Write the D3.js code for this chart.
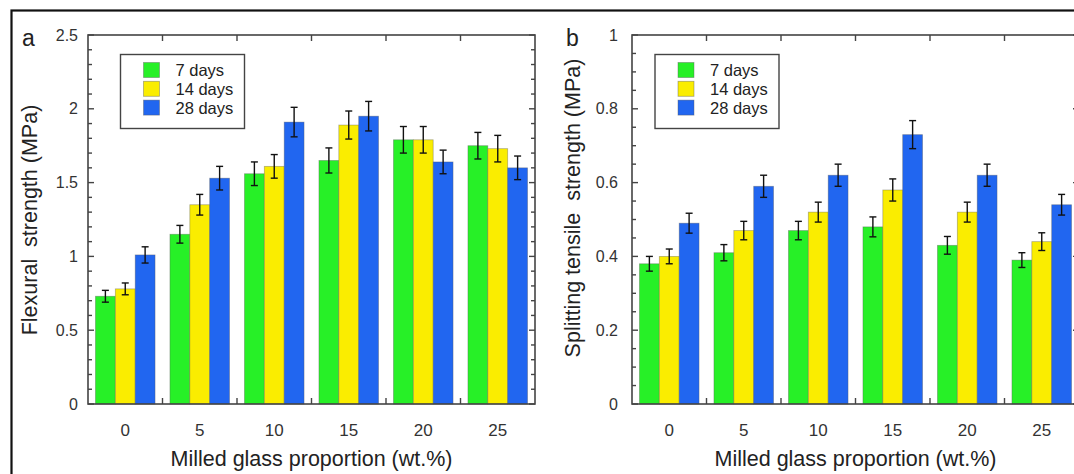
<!DOCTYPE html>
<html><head><meta charset="utf-8">
<script src="https://cdn.jsdelivr.net/npm/d3@7/dist/d3.min.js"></script>
<style>
html,body{margin:0;padding:0;background:#fff;overflow:hidden}
text{font-family:"Liberation Sans",Arial,Helvetica,sans-serif}
</style></head>
<body>
<svg id="chart" width="1074" height="474"></svg>
<script>
const categories = ["0","5","10","15","20","25"];
const seriesNames = ["7 days","14 days","28 days"];
const seriesColors = ["#27f027","#faed00","#2166f0"];

// Panel a: flexural strength (MPa)
const flex7 = [0.73,1.15,1.56,1.65,1.79,1.75];
const flex14 = [0.78,1.35,1.61,1.89,1.79,1.73];
const flex28 = [1.01,1.53,1.91,1.95,1.64,1.60];
const flex7Err = [0.04,0.06,0.08,0.085,0.09,0.09];
const flex14Err = [0.04,0.07,0.08,0.095,0.09,0.09];
const flex28Err = [0.055,0.08,0.10,0.10,0.08,0.08];
const flexTicks = [0,0.5,1,1.5,2,2.5];
const flexTickLabels = ["0","0.5","1","1.5","2","2.5"];

// Panel b: splitting tensile strength (MPa)
const split7 = [0.38,0.41,0.47,0.48,0.43,0.39];
const split14 = [0.40,0.47,0.52,0.58,0.52,0.44];
const split28 = [0.49,0.59,0.62,0.73,0.62,0.54];
const split7Err = [0.02,0.022,0.025,0.027,0.024,0.02];
const split14Err = [0.02,0.025,0.027,0.03,0.027,0.024];
const split28Err = [0.027,0.03,0.03,0.038,0.03,0.028];
const splitTicks = [0,0.2,0.4,0.6,0.8,1];
const splitTickLabels = ["0","0.2","0.4","0.6","0.8","1"];

const svg = d3.select("#chart");

// outer frame
svg.append("rect").attr("x",11.5).attr("y",10.5).attr("width",1100).attr("height",500)
  .attr("fill","none").attr("stroke","#111").attr("stroke-width",2.2);

function panel(opt){
  const {x0,x1,y0,y1,ymax,minorStep,ticks,tickLabels,vals,errs,letter,letterX,ytitle,ytitleX,ytitleY,labelGap,legendX} = opt;
  const g = svg.append("g");
  const x = d3.scaleBand().domain(categories).range([x0,x1]).paddingInner(0.2).paddingOuter(0.1);
  const xs = d3.scaleBand().domain(seriesNames).range([0,x.bandwidth()]);
  const y = d3.scaleLinear().domain([0,ymax]).range([y1,y0]);
  const axisColor = "#444";

  // bars
  seriesNames.forEach((s,si)=>{
    categories.forEach((c,ci)=>{
      const v = vals[si][ci];
      g.append("rect").attr("x",x(c)+xs(s)).attr("y",y(v))
        .attr("width",xs.bandwidth()).attr("height",y(0)-y(v))
        .attr("fill",seriesColors[si]).attr("stroke","rgba(90,90,90,0.45)").attr("stroke-width",0.8);
    });
  });
  // error bars
  seriesNames.forEach((s,si)=>{
    categories.forEach((c,ci)=>{
      const v = vals[si][ci], e = errs[si][ci];
      const cx = x(c)+xs(s)+xs.bandwidth()/2;
      const eg = g.append("g").attr("stroke","#111").attr("stroke-width",1.4);
      eg.append("line").attr("x1",cx).attr("x2",cx).attr("y1",y(v+e)).attr("y2",y(v-e));
      eg.append("line").attr("x1",cx-3.5).attr("x2",cx+3.5).attr("y1",y(v+e)).attr("y2",y(v+e));
      eg.append("line").attr("x1",cx-3.5).attr("x2",cx+3.5).attr("y1",y(v-e)).attr("y2",y(v-e));
    });
  });

  // frame
  g.append("rect").attr("x",x0).attr("y",y0).attr("width",x1-x0).attr("height",y1-y0)
    .attr("fill","none").attr("stroke",axisColor).attr("stroke-width",1.6);

  // y ticks (minor + major) on left and right, pointing inward
  const minor = d3.range(0, ymax+minorStep/2, minorStep);
  minor.forEach(t=>{
    const isMajor = ticks.some(m=>Math.abs(m-t)<1e-6);
    const len = isMajor?6:4;
    g.append("line").attr("x1",x0).attr("x2",x0+len).attr("y1",y(t)).attr("y2",y(t)).attr("stroke",axisColor).attr("stroke-width",1.4);
    g.append("line").attr("x1",x1).attr("x2",x1-len).attr("y1",y(t)).attr("y2",y(t)).attr("stroke",axisColor).attr("stroke-width",1.4);
  });
  // y tick labels via d3 axis
  const yAxis = d3.axisLeft(y).tickValues(ticks).tickFormat((d,i)=>tickLabels[i]).tickSize(0).tickPadding(labelGap);
  const ya = g.append("g").attr("transform",`translate(${x0},0)`).call(yAxis);
  ya.select(".domain").remove();
  ya.selectAll("text").attr("font-size",16).attr("fill","#333").attr("font-family","Liberation Sans, Arial, sans-serif");

  // x ticks between groups, top and bottom, inward
  for(let i=1;i<categories.length;i++){
    const tx = x0 + x.step()*i;
    g.append("line").attr("x1",tx).attr("x2",tx).attr("y1",y1).attr("y2",y1-6).attr("stroke",axisColor).attr("stroke-width",1.4);
    g.append("line").attr("x1",tx).attr("x2",tx).attr("y1",y0).attr("y2",y0+6).attr("stroke",axisColor).attr("stroke-width",1.4);
  }
  // x tick labels via d3 axis
  const xAxis = d3.axisBottom(x).tickSize(0).tickPadding(20);
  const xa = g.append("g").attr("transform",`translate(0,${y1})`).call(xAxis);
  xa.select(".domain").remove();
  xa.selectAll("text").attr("font-size",17).attr("fill","#333").attr("font-family","Liberation Sans, Arial, sans-serif");

  // titles
  g.append("text").attr("x",(x0+x1)/2).attr("y",466).attr("text-anchor","middle")
    .attr("font-size",21.5).attr("fill","#222").text("Milled glass proportion (wt.%)");
  g.append("text").attr("transform",`translate(${ytitleX},${ytitleY}) rotate(-90)`).attr("text-anchor","middle")
    .attr("font-size",21.5).attr("fill","#222").style("white-space","pre").text(ytitle);
  g.append("text").attr("x",letterX).attr("y",46).attr("font-size",23).attr("fill","#222").text(letter);

  // legend
  const lg = g.append("g");
  lg.append("rect").attr("x",legendX).attr("y",54.5).attr("width",124).attr("height",74)
    .attr("fill","#fff").attr("stroke","#444").attr("stroke-width",1.4);
  seriesNames.forEach((s,i)=>{
    const ry = 62.5 + i*18.8;
    lg.append("rect").attr("x",legendX+23).attr("y",ry).attr("width",16).attr("height",15)
      .attr("fill",seriesColors[i]).attr("stroke","rgba(90,90,90,0.5)").attr("stroke-width",0.8);
    lg.append("text").attr("x",legendX+55).attr("y",ry+13.5).attr("font-size",16.5).attr("fill","#222").text(s);
  });
}

panel({x0:88,x1:535,y0:35,y1:404,ymax:2.5,minorStep:0.1,ticks:flexTicks,tickLabels:flexTickLabels,
  vals:[flex7,flex14,flex28],errs:[flex7Err,flex14Err,flex28Err],letter:"a",letterX:22,
  ytitle:"Flexural  strength (MPa)",ytitleX:37,ytitleY:220,labelGap:10,legendX:120.5});
panel({x0:632,x1:1079,y0:35,y1:404,ymax:1,minorStep:0.05,ticks:splitTicks,tickLabels:splitTickLabels,
  vals:[split7,split14,split28],errs:[split7Err,split14Err,split28Err],letter:"b",letterX:566,
  ytitle:"Splitting tensile  strength (MPa)",ytitleX:580,ytitleY:208,labelGap:14,legendX:655});
</script>
</body></html>
